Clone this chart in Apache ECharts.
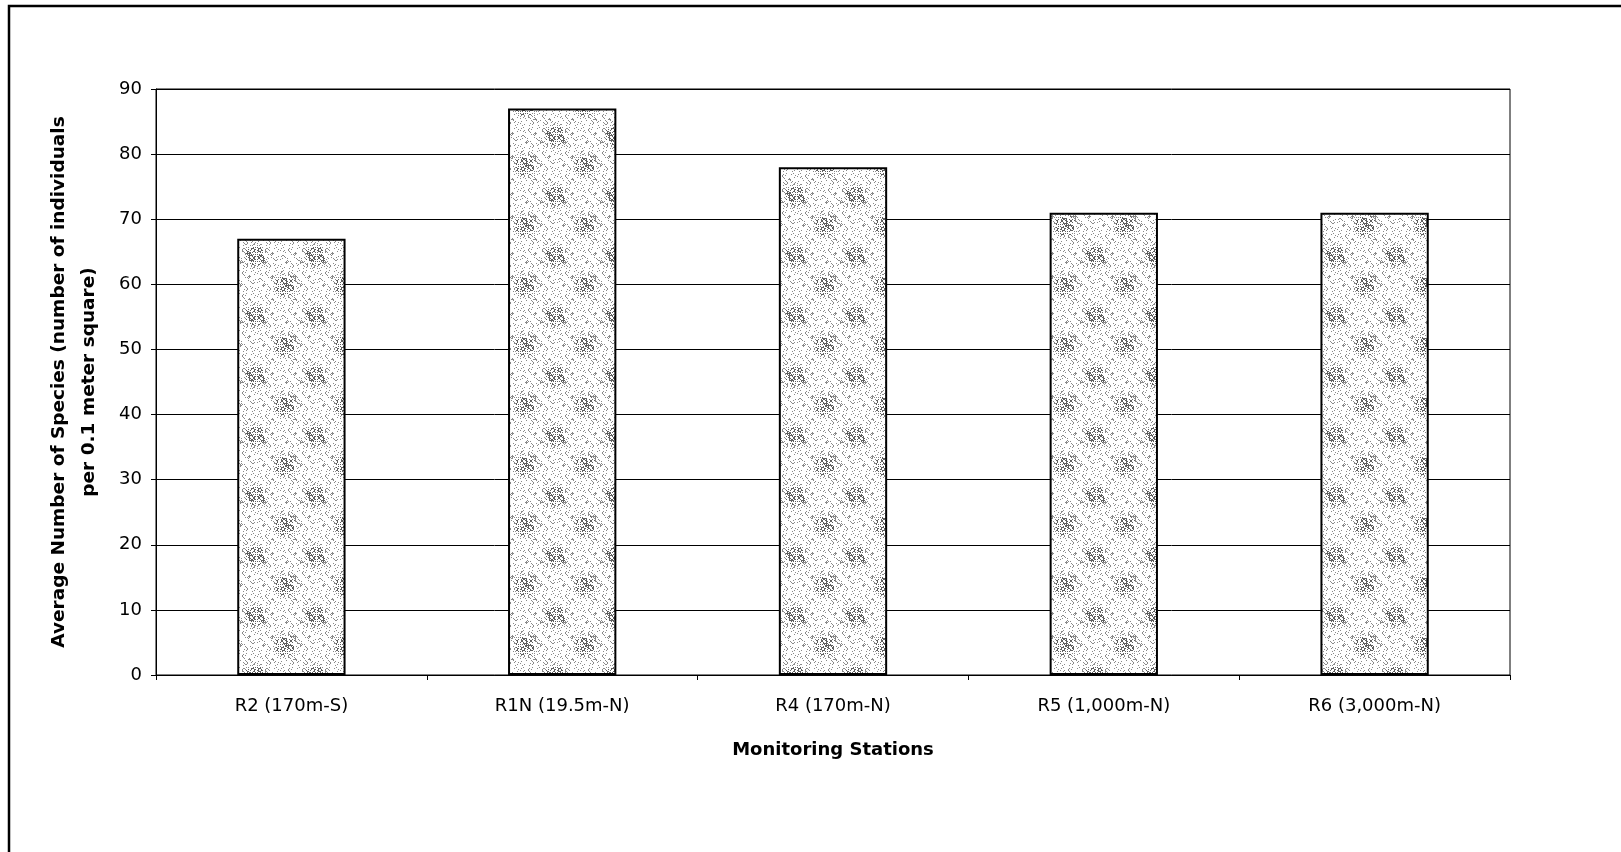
<!DOCTYPE html>
<html>
<head>
<meta charset="utf-8">
<script src="https://cdn.jsdelivr.net/npm/echarts@6/dist/echarts.min.js"></script>
<style>
  html, body { margin: 0; padding: 0; background: #fff; }
  #chart { width: 1621px; height: 852px; }
</style>
</head>
<body>
<div id="chart"></div>
<script>
// Monitoring stations along the transect
const stations = ['R2 (170m-S)', 'R1N (19.5m-N)', 'R4 (170m-N)', 'R5 (1,000m-N)', 'R6 (3,000m-N)'];
// Average number of species per 0.1 m² at each station
const avgSpecies = [67, 87, 78, 71, 71];
// Value axis ticks
const yTicks = [0, 10, 20, 30, 40, 50, 60, 70, 80, 90];

// Mottled grey fill for the bars: a deterministic dot tile whose dot density
// rises and falls in soft patches
function stippleTile() {
  const size = 60;
  const c = document.createElement('canvas');
  c.width = size; c.height = size;
  const ctx = c.getContext('2d');
  ctx.fillStyle = '#ffffff';
  ctx.fillRect(0, 0, size, size);
  for (let y = 0; y < size; y++) {
    for (let x = 0; x < size; x++) {
      const patch = Math.max(0, Math.sin(x * Math.PI / 30) * Math.sin(y * Math.PI / 30));
      const thresh = 3 + Math.round(patch * 8);
      const h = (x * 37 + y * 91 + x * y * 13) % 23;
      if (h < thresh) {
        ctx.fillStyle = patch > 0.5 ? '#5f5f5f' : '#8a8a8a';
        ctx.fillRect(x, y, 1, 1);
      }
    }
  }
  return c;
}

const font = '"DejaVu Sans", "Liberation Sans", Arial, sans-serif';
const chart = echarts.init(document.getElementById('chart'), null, { renderer: 'canvas' });

chart.setOption({
  backgroundColor: '#ffffff',
  animation: false,
  grid: {
    left: 156, right: 111, top: 89, bottom: 177,
    show: true, borderColor: '#000', borderWidth: 1, backgroundColor: 'transparent'
  },
  xAxis: {
    type: 'category',
    data: stations,
    boundaryGap: true,
    name: 'Monitoring Stations',
    nameLocation: 'middle',
    nameGap: 66,
    nameTextStyle: { fontFamily: font, fontSize: 18, fontWeight: 'bold', color: '#000' },
    axisLine: { lineStyle: { color: '#000', width: 1 } },
    axisTick: { show: true, length: 5, lineStyle: { color: '#000' } },
    axisLabel: { margin: 22, fontFamily: font, fontSize: 18, color: '#000' }
  },
  yAxis: {
    type: 'value',
    min: yTicks[0],
    max: yTicks[yTicks.length - 1],
    interval: yTicks[1] - yTicks[0],
    name: 'Average Number of Species (number of individuals\nper 0.1 meter square)',
    nameLocation: 'middle',
    nameRotate: 90,
    nameGap: 52,
    nameTextStyle: { fontFamily: font, fontSize: 18.5, fontWeight: 'bold', color: '#000', lineHeight: 30, align: 'center' },
    axisLine: { show: true, lineStyle: { color: '#000', width: 1 } },
    axisTick: { show: true, length: 5, lineStyle: { color: '#000' } },
    axisLabel: { margin: 14, fontFamily: font, fontSize: 18, color: '#000' },
    splitLine: { show: true, lineStyle: { color: '#000', width: 1 } }
  },
  series: [{
    type: 'bar',
    data: avgSpecies,
    barWidth: '40%',
    itemStyle: {
      color: { image: stippleTile(), repeat: 'repeat' },
      borderColor: '#000',
      borderWidth: 2
    }
  }],
  graphic: [{
    type: 'polyline',
    silent: true,
    shape: { points: [[9, 852], [9, 6], [1621, 6]] },
    style: { stroke: '#000', lineWidth: 2.5, fill: null }
  }]
});
</script>
</body>
</html>
